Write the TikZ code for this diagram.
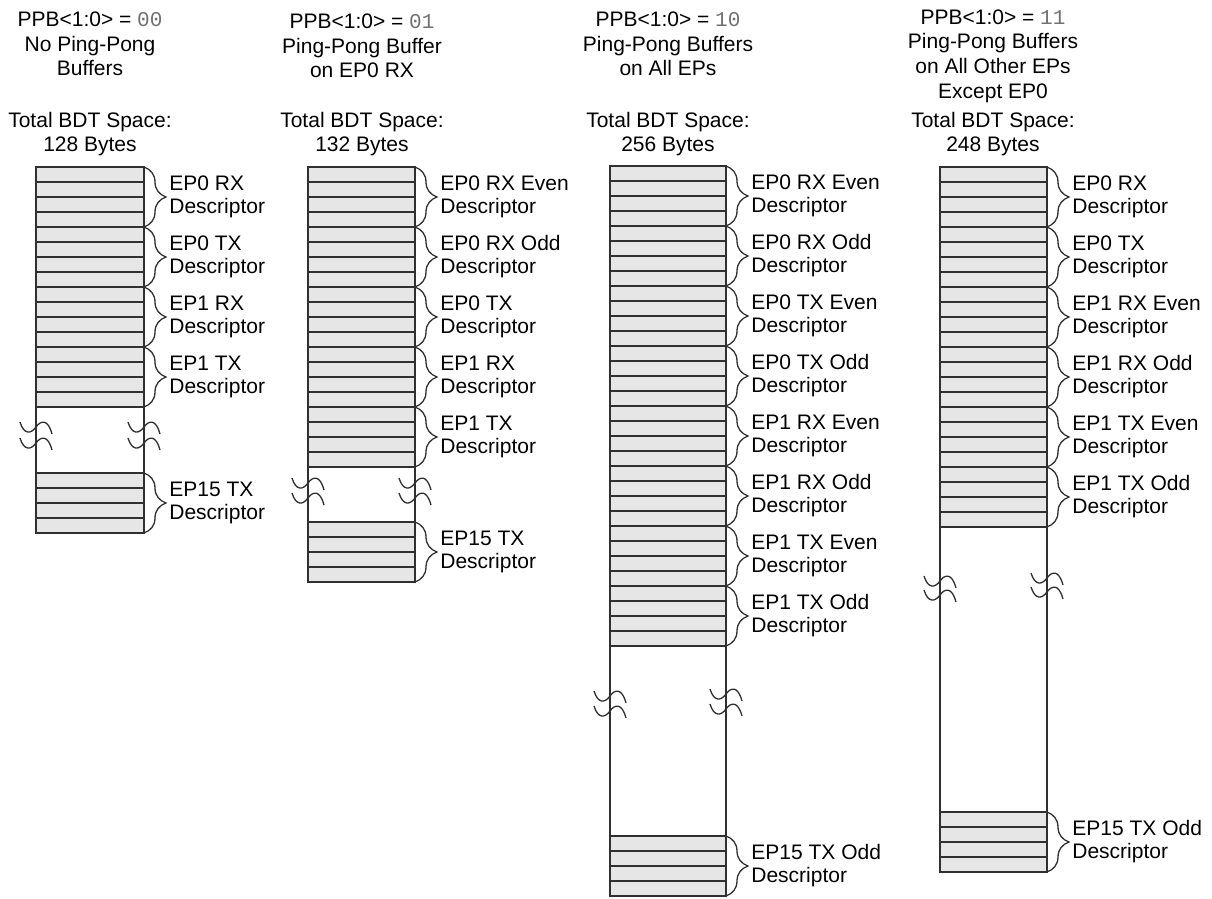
\documentclass[tikz,border=0pt]{standalone}
\usepackage{fontspec}
\setmainfont{Liberation Sans}
\newfontfamily\bitsfont{Liberation Mono}
\usetikzlibrary{decorations.pathreplacing, positioning, calc}
\definecolor{slotfill}{HTML}{E6E6E6}
\definecolor{edgegray}{HTML}{303030}
\definecolor{bitgray}{HTML}{707070}

% one descriptor: 4 slots, brace and label
\newcommand\bdtgroup[5]{%
  \draw[slot] (#1,#3) rectangle (#2,#3+60);
  \foreach \r in {15,30,45} \draw[line] (#1,#3+\r) -- (#2,#3+\r);
  \draw[brc] (#2,#3) -- (#2,#3+60);
  \node[desc] (#5) at (#2+25,#3+30) {#4\\Descriptor};
}
% break mark on a vertical line
\newcommand\gapwave[2]{%
  \draw[line] (#1-16,#2-5) .. controls (#1-12,#2+8) and (#1-5,#2+7) .. (#1,#2)
    .. controls (#1+5,#2-7) and (#1+12,#2-8) .. (#1+16,#2+7);
}
\newcommand\bits[1]{{\bitsfont\color{bitgray}#1}}

\begin{document}
\begin{tikzpicture}[
        x=0.5pt, y=-0.5pt,
        line/.style={draw=edgegray, line width=0.65pt},
        slot/.style={line, fill=slotfill},
        brc/.style={line, decorate, decoration={brace, amplitude=11pt}},
        desc/.style={anchor=west, align=left, inner sep=0pt, font=\fontsize{10.5}{11.5}\selectfont},
        head/.style={align=center, inner sep=0pt, font=\fontsize{10.5}{12.3}\selectfont}
    ]
    \useasboundingbox (0,0) rectangle (1212,899);

    % headers
    \node[head] (h1) at (90,44) {PPB<1:0> = \bits{00}\\No Ping-Pong\\Buffers};
    \node[head] (h2) at (362,46) {PPB<1:0> = \bits{01}\\Ping-Pong Buffer\\on EP0 RX};
    \node[head] (h3) at (668,44) {PPB<1:0> = \bits{10}\\Ping-Pong Buffers\\on All EPs};
    \node[head] (h4) at (993,56) {PPB<1:0> = \bits{11}\\Ping-Pong Buffers\\on All Other EPs\\Except EP0};
    \node[head] (t1) at (90,134) {Total BDT Space:\\128 Bytes};
    \node[head] (t2) at (362,134) {Total BDT Space:\\132 Bytes};
    \node[head] (t3) at (668,134) {Total BDT Space:\\256 Bytes};
    \node[head] (t4) at (993,134) {Total BDT Space:\\248 Bytes};

    % column 1
    \foreach \lbl [count=\i from 0] in {EP0 RX, EP0 TX, EP1 RX, EP1 TX}
        \bdtgroup{36}{144}{167+60*\i}{\lbl}{a\i};
    \draw[line] (36,407) -- (36,473);
    \draw[line] (144,407) -- (144,473);
    \gapwave{36}{427} \gapwave{36}{443}
    \gapwave{144}{427} \gapwave{144}{443}
    \bdtgroup{36}{144}{473}{EP15 TX}{a15}

    % column 2
    \foreach \lbl [count=\i from 0] in {EP0 RX Even, EP0 RX Odd, EP0 TX, EP1 RX, EP1 TX}
        \bdtgroup{308}{415}{167+60*\i}{\lbl}{b\i};
    \draw[line] (308,467) -- (308,522);
    \draw[line] (415,467) -- (415,522);
    \gapwave{308}{483} \gapwave{308}{498}
    \gapwave{415}{483} \gapwave{415}{498}
    \bdtgroup{308}{415}{522}{EP15 TX}{b15}

    % column 3
    \foreach \lbl [count=\i from 0] in {EP0 RX Even, EP0 RX Odd, EP0 TX Even, EP0 TX Odd,
            EP1 RX Even, EP1 RX Odd, EP1 TX Even, EP1 TX Odd}
        \bdtgroup{610}{726}{166+60*\i}{\lbl}{c\i};
    \draw[line] (610,646) -- (610,836);
    \draw[line] (726,646) -- (726,836);
    \gapwave{610}{696} \gapwave{610}{711}
    \gapwave{726}{694} \gapwave{726}{709}
    \bdtgroup{610}{726}{836}{EP15 TX Odd}{c15}

    % column 4
    \foreach \lbl [count=\i from 0] in {EP0 RX, EP0 TX, EP1 RX Even, EP1 RX Odd, EP1 TX Even, EP1 TX Odd}
        \bdtgroup{940}{1047}{167+60*\i}{\lbl}{d\i};
    \draw[line] (940,527) -- (940,812);
    \draw[line] (1047,527) -- (1047,812);
    \gapwave{940}{581} \gapwave{940}{595}
    \gapwave{1047}{578} \gapwave{1047}{592}
    \bdtgroup{940}{1047}{812}{EP15 TX Odd}{d15}
\end{tikzpicture}
\end{document}
